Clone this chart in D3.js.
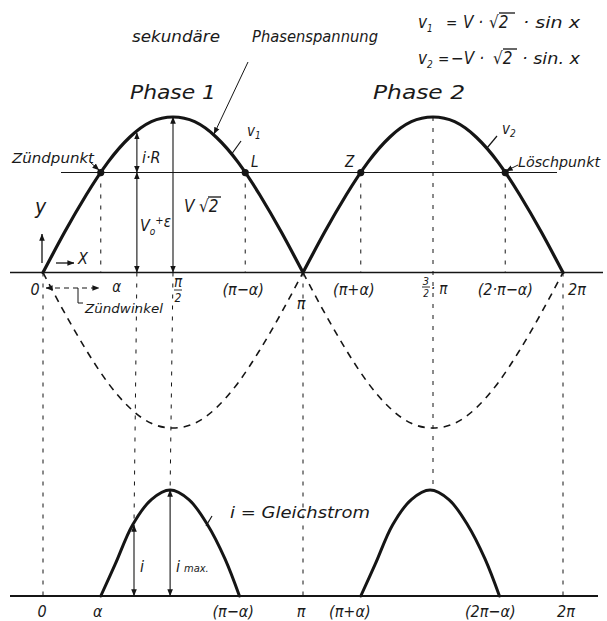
<!DOCTYPE html>
<html><head><meta charset="utf-8">
<script src="https://cdn.jsdelivr.net/npm/d3@7"></script>
<style>
html,body{margin:0;padding:0;background:#fff;}
svg text{font-family:"Liberation Sans Narrow","DejaVu Sans Condensed","Liberation Sans",sans-serif;font-style:italic;fill:#1a1a1a;}
</style></head><body>
<svg id="c" width="607" height="621"></svg>
<script>
// ---------- data ----------
const phaseDeg = [0,15,30,45,60,75,90,105,120,135,150,165,180];
const v1Values = [0,0.26,0.50,0.71,0.87,0.97,1.00,0.97,0.87,0.71,0.50,0.26,0];   // phase 1 over 0..π (unit = V·√2)
const v2Values = [0,0.26,0.50,0.71,0.87,0.97,1.00,0.97,0.87,0.71,0.50,0.26,0];   // phase 2 over π..2π
const alphaDeg = 40;                 // Zündwinkel
const igniteLevel = 0.643;           // V0+ε relative to V·√2
const current1Deg = [40,50,62,75,88,101,114,126,136];
const current1Values = [0,0.30,0.67,0.91,1,0.91,0.67,0.35,0];
const current2Deg = [220,230,242,255,268,281,294,306,316];
const current2Values = [0,0.30,0.67,0.91,1,0.91,0.67,0.35,0];
const topTickDeg = [0,40,90,140,180,220,270,320,360];
const topTickLabels = ["0","α","π/2","(π−α)","π","(π+α)","3/2·π","(2·π−α)","2π"];
const bottomTickDeg = [0,40,140,180,220,320,360];
const bottomTickLabels = ["0","α","(π−α)","π","(π+α)","(2π−α)","2π"];

// ---------- scales ----------
const svg = d3.select("#c");
const x = d3.scaleLinear().domain([0,360]).range([43,563]);
const yT = d3.scaleLinear().domain([-1,1]).range([428,117]);
const yB = d3.scaleLinear().domain([0,1]).range([596,490]);
const INK = "#151515";

const defs = svg.append("defs");
defs.append("marker").attr("id","ah").attr("viewBox","0 0 10 10").attr("refX",9.5).attr("refY",5)
  .attr("markerWidth",7).attr("markerHeight",8).attr("markerUnits","userSpaceOnUse").attr("orient","auto-start-reverse")
  .append("path").attr("d","M0,1 L10,5 L0,9 z").attr("fill",INK);

function seg(x1,y1,x2,y2,w,dash,arrows){
  const l = svg.append("line").attr("x1",x1).attr("y1",y1).attr("x2",x2).attr("y2",y2)
    .attr("stroke",INK).attr("stroke-width",w);
  if(dash) l.attr("stroke-dasharray",dash);
  if(arrows==="end"||arrows==="both") l.attr("marker-end","url(#ah)");
  if(arrows==="start"||arrows==="both") l.attr("marker-start","url(#ah)");
  return l;
}
function txt(s,xp,yp,size,anchor){
  return svg.append("text").attr("x",xp).attr("y",yp).attr("font-size",size)
    .attr("text-anchor",anchor||"start").text(s);
}

// ---------- axes ----------
const y0 = yT(0);
seg(10,y0,603,y0,1.6);
seg(10,yB(0),598,yB(0),1.8);
// level line V0+ε
const yL = yT(igniteLevel);
seg(61,yL,557,yL,1);

// ---------- vertical dashed guides ----------
const VD = "4,7";
seg(x(0),y0,x(0),yB(0),1,VD);
seg(x(alphaDeg),yL,x(alphaDeg),y0,1,VD);
seg(x(180-alphaDeg),yL,x(180-alphaDeg),y0,1,VD);
seg(x(180+alphaDeg),yL,x(180+alphaDeg),y0,1,VD);
seg(x(360-alphaDeg),yL,x(360-alphaDeg),y0,1,VD);
seg(x(180),y0,x(180),yB(0),1,VD);
seg(x(360),y0,x(360),yB(0),1,VD);
seg(x(270),yT(1),x(270),yB(1),1,VD);
seg(x(65),y0,x(63),yB(0.67),1,VD);
seg(x(90),y0,x(88),yB(1),1,VD);

// ---------- curves ----------
const lineT = d3.line().x(d=>x(d[0])).y(d=>yT(d[1])).curve(d3.curveNatural);
const lineB = d3.line().x(d=>x(d[0])).y(d=>yB(d[1])).curve(d3.curveCatmullRom.alpha(0.5));
const v1 = phaseDeg.map((d,i)=>[d, v1Values[i]]);
const v2 = phaseDeg.map((d,i)=>[d+180, v2Values[i]]);
const v2neg = phaseDeg.map((d,i)=>[d, -v2Values[i]]);
const v1neg = phaseDeg.map((d,i)=>[d+180, -v1Values[i]]);
[v2neg,v1neg].forEach(s=>svg.append("path").attr("d",lineT(s)).attr("fill","none")
  .attr("stroke",INK).attr("stroke-width",1.6).attr("stroke-dasharray","7,6"));
[v1,v2].forEach(s=>svg.append("path").attr("d",lineT(s)).attr("fill","none")
  .attr("stroke",INK).attr("stroke-width",3.2).attr("stroke-linecap","round"));
[[current1Deg,current1Values],[current2Deg,current2Values]].forEach(([dg,vl])=>
  svg.append("path").attr("d",lineB(dg.map((d,i)=>[d,vl[i]]))).attr("fill","none")
    .attr("stroke",INK).attr("stroke-width",3).attr("stroke-linecap","round"));

// points
[alphaDeg,180-alphaDeg,180+alphaDeg,360-alphaDeg].forEach(d=>
  svg.append("circle").attr("cx",x(d)).attr("cy",yL).attr("r",3.6).attr("fill",INK));

// ---------- arrows in phase 1 ----------
const xi = x(65);
seg(xi,yL,xi,yT(0.905)+1,1.1,null,"both");
seg(xi,yL,xi,y0,1.1,null,"both");
seg(x(90),yT(1),x(90),y0,1.1,null,"both");
// current arrows
seg(x(63),yB(0),x(63),yB(0.67),1.1,null,"both");
seg(x(88),yB(0),x(88),yB(1),1.1,null,"both");
// y / x arrows
seg(42,263,42,234,1.3,null,"end");
seg(56,263,74,263,1.3,null,"end");
// Zündwinkel arrow
seg(46,288,99,288,1.1,"5,4","both");
svg.append("path").attr("d","M78,288 L78,303 L83,303").attr("fill","none").attr("stroke",INK).attr("stroke-width",1);

// leaders
seg(248,62,214,134,1,null,"end");
seg(231,155,241,141,1.2);
seg(487,148,497,136,1.2);
seg(206,526,212,516,1.2);
seg(90,162,99,170,1,null,"end");
seg(518,165,506,171,1,null,"end");

// ---------- text ----------
txt("sekundäre",132,42,15).attr("textLength",88).attr("lengthAdjust","spacingAndGlyphs");
txt("Phasenspannung",252,42,15).attr("textLength",126).attr("lengthAdjust","spacingAndGlyphs");
txt("Phase  1",130,99,19).attr("textLength",86).attr("lengthAdjust","spacingAndGlyphs");
txt("Phase  2",373,99,19).attr("textLength",92).attr("lengthAdjust","spacingAndGlyphs");

// formulas
let f = txt("v",418,28,17); f.append("tspan").attr("font-size",10).attr("dy",4).text("1");
txt("=",446,28,15);
txt("V ·",463,28,17);
txt("√2",489,28,17); seg(499,13,515,13,1.3);
txt("· sin x",523,28,16).attr("textLength",57).attr("lengthAdjust","spacingAndGlyphs");
f = txt("v",418,64,17); f.append("tspan").attr("font-size",10).attr("dy",4).text("2");
txt("=",438,64,15);
txt("−V ·",451,64,17);
txt("√2",493,64,17); seg(503,49,517,49,1.3);
txt("· sin. x",522,64,16).attr("textLength",58).attr("lengthAdjust","spacingAndGlyphs");

// phase labels
f = txt("v",247,136,15); f.append("tspan").attr("font-size",10).attr("dy",3).text("1");
f = txt("v",502,134,15); f.append("tspan").attr("font-size",10).attr("dy",3).text("2");
txt("Zündpunkt",12,163,14).attr("textLength",82).attr("lengthAdjust","spacingAndGlyphs");
txt("L",251,167,15);
txt("Z",345,167,15);
txt("Löschpunkt",518,167,14).attr("textLength",82).attr("lengthAdjust","spacingAndGlyphs");
txt("i·R",142,163,16);
txt("V",184,212,17);
txt("√2",199,212,17); seg(208,197,221,197,1.3);
f = txt("V",140,231,16); f.append("tspan").attr("font-size",10).attr("dy",4).text("o");
f.append("tspan").attr("font-size",11).attr("dy",-11).text("+");
f.append("tspan").attr("font-size",15).attr("dy",3).text("ε");
txt("y",35,214,21);
txt("X",78,264,16);
txt("Zündwinkel",85,313,13).attr("textLength",78).attr("lengthAdjust","spacingAndGlyphs");

// top tick labels
const topOff = {0:-8,40:16,140:-2,180:-2,220:-7,320:0,360:14};
topTickDeg.forEach((d,i)=>{
  const lab = topTickLabels[i], cx = x(d)+(topOff[d]||0);
  if(lab==="π/2"){
    txt("π",x(d)+5,287,15,"middle");
    seg(x(d)+1,290,x(d)+9,290,0.9);
    txt("2",x(d)+5,302,12,"middle");
  } else if(lab==="3/2·π"){
    txt("3",x(d)-7,285,11,"middle");
    seg(x(d)-11,287,x(d)-3,287,0.9);
    txt("2",x(d)-7,297,10,"middle");
    txt("· π",x(d)+6,294,15,"middle");
  } else if(lab==="π"){
    txt("π",cx,309,16,"middle");
  } else if(lab==="α"){
    txt(lab,cx,292,15,"middle");
  } else {
    txt(lab,cx,295,16,"middle");
  }
});
// bottom tick labels
const botOff = {0:-1,40:-3,140:-12,180:-2,220:-11,320:-15,360:3};
bottomTickDeg.forEach((d,i)=>{
  txt(bottomTickLabels[i],x(d)+(botOff[d]||0),617,16,"middle");
});

// current labels
txt("i  =  Gleichstrom",230,518,15).attr("textLength",140).attr("lengthAdjust","spacingAndGlyphs");
txt("i",140,572,16);
f = txt("i",176,572,16); f.append("tspan").attr("font-size",11).attr("dx",4).text("max.");
</script>
</body></html>
